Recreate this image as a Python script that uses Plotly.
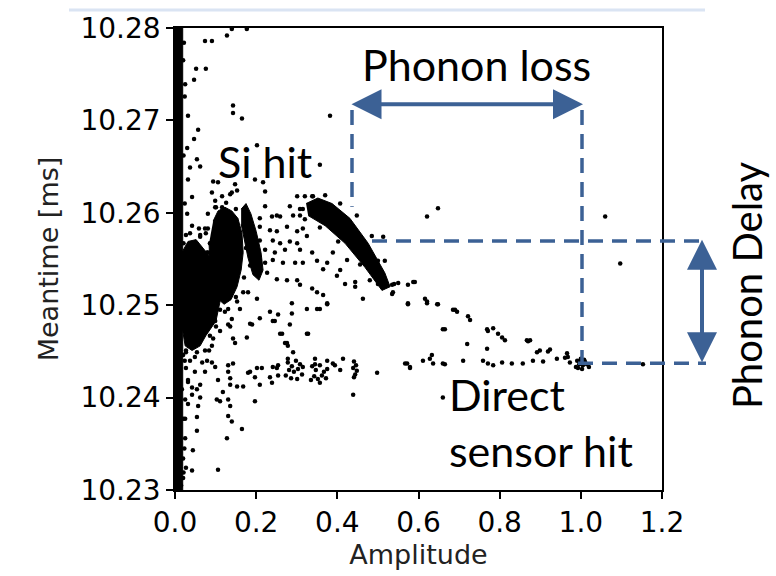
import plotly.graph_objects as go

# ---------------- data (Amplitude, Meantime [ms]) ----------------
# dense cores (outlines of saturated point clouds)
column_x = [0.000, 0.019, 0.019, 0.000]
column_y = [10.2295, 10.2295, 10.2810, 10.2810]

blobA_x = [0.017, 0.032, 0.052, 0.069, 0.089, 0.106, 0.111, 0.101, 0.076, 0.062, 0.042, 0.025, 0.015, 0.012]
blobA_y = [10.2557, 10.2569, 10.2571, 10.2562, 10.2551, 10.2523, 10.2504, 10.2483, 10.2467, 10.2456,
           10.2451, 10.2456, 10.2483, 10.2520]

blobB_x = [0.094, 0.106, 0.123, 0.140, 0.155, 0.165, 0.168, 0.163, 0.153, 0.138, 0.121, 0.103, 0.094, 0.086, 0.084]
blobB_y = [10.2591, 10.2602, 10.2606, 10.2602, 10.2594, 10.2578, 10.2557, 10.2538, 10.2520, 10.2506,
           10.2501, 10.2508, 10.2525, 10.2544, 10.2567]

blobB2_x = [0.163, 0.175, 0.187, 0.200, 0.212, 0.217, 0.207, 0.192, 0.180, 0.170, 0.163]
blobB2_y = [10.2604, 10.2610, 10.2599, 10.2580, 10.2557, 10.2538, 10.2527, 10.2533, 10.2551, 10.2572, 10.2588]

blobC_x = [0.323, 0.352, 0.387, 0.431, 0.476, 0.517, 0.530, 0.510, 0.468, 0.419, 0.370, 0.328]
blobC_y = [10.2610, 10.2616, 10.2610, 10.2594, 10.2567, 10.2535, 10.2520, 10.2516, 10.2541, 10.2567, 10.2586, 10.2597]

# individual events
pts_x = [
    0.074, 0.091, 0.128, 0.140, 0.177, 0.052, 0.076, 0.047, 0.025, 0.143, 0.143, 0.165,
    0.057, 0.047, 0.054, 0.062, 0.037, 0.032, 0.094, 0.106, 0.140, 0.153, 0.197, 0.202,
    0.217, 0.222, 0.222, 0.116, 0.099, 0.099, 0.116, 0.042, 0.030, 0.032, 0.020, 0.382,
    0.091, 0.136, 0.148, 0.357,
    0.301, 0.320, 0.283, 0.251, 0.239, 0.259, 0.291, 0.308, 0.209, 0.185, 0.276, 0.209,
    0.234, 0.251, 0.301, 0.315, 0.325, 0.192, 0.209, 0.241, 0.259, 0.283, 0.301, 0.308,
    0.222, 0.246, 0.271, 0.209, 0.241, 0.266, 0.296, 0.315, 0.338, 0.350, 0.365, 0.375,
    0.389, 0.407, 0.424, 0.444, 0.419, 0.463, 0.500, 0.480, 0.513, 0.550, 0.574, 0.591,
    0.574, 0.185, 0.227, 0.251, 0.276, 0.301, 0.308, 0.338, 0.350, 0.365, 0.375, 0.357,
    0.325, 0.288, 0.288, 0.234, 0.209, 0.241, 0.283, 0.325, 0.259, 0.276, 0.143, 0.177,
    0.136, 0.190, 0.160, 0.202, 0.180,
    0.185, 0.246, 0.254, 0.350, 0.375, 0.621, 0.646, 0.690, 0.660, 0.264, 0.328, 0.271,
    0.278, 0.291, 0.148, 0.131, 0.140, 0.079, 0.099, 0.131, 0.143, 0.131, 0.136, 0.106,
    0.136, 0.153, 0.168, 0.118, 0.180, 0.197, 0.185, 0.214, 0.202, 0.209, 0.234, 0.239,
    0.251, 0.254, 0.241, 0.254, 0.278, 0.345, 0.375, 0.389, 0.407, 0.414, 0.498, 0.572,
    0.579, 0.611, 0.633, 0.660, 0.660, 0.439, 0.103, 0.111, 0.131, 0.136, 0.131, 0.140,
    0.165, 0.128, 0.054, 0.057, 0.054, 0.054, 0.044, 0.042, 0.106, 0.197, 0.032,
    0.278, 0.288, 0.298, 0.308, 0.281, 0.293, 0.303, 0.313, 0.286, 0.301, 0.273, 0.315,
    0.338, 0.347, 0.357, 0.367, 0.343, 0.352, 0.362, 0.375, 0.335, 0.357, 0.372, 0.345,
    0.441, 0.446, 0.439, 0.448, 0.444, 0.441,
    0.991, 1.000, 1.010, 0.996, 1.005, 1.015, 0.988, 1.003, 1.020, 0.998, 0.993, 1.008,
    0.394, 0.567, 0.579, 0.628, 0.636, 0.665, 0.710, 0.759, 0.771, 0.784, 0.806, 0.830,
    0.857, 0.882, 0.907, 0.941, 0.961, 0.973, 0.892, 0.919, 0.870, 1.153, 1.097, 1.060,
    0.587, 0.616, 0.621, 0.648, 0.685, 0.695, 0.722, 0.727, 0.769, 0.771, 0.784, 0.796,
    0.806, 0.813, 0.867, 0.875, 0.899, 0.924, 0.966, 0.968, 0.665, 0.720, 0.769, 0.574,
    0.621, 0.648, 0.399, 0.444,
    0.308, 0.419, 0.456, 0.493, 0.537, 0.535, 0.340, 0.395, 0.440, 0.485,
    0.074, 0.081, 0.172, 0.185, 0.222, 0.168, 0.153, 0.123, 0.099, 0.111, 0.091,
    0.086, 0.062, 0.037, 0.106, 0.099, 0.091, 0.074, 0.062, 0.042, 0.032, 0.025, 0.025,
    0.020, 0.020, 0.015, 0.027, 0.027, 0.025, 0.030,
    0.022, 0.024, 0.021, 0.024, 0.021, 0.023, 0.024, 0.021, 0.023, 0.021,
    0.020, 0.037, 0.054, 0.027, 0.049, 0.067, 0.032, 0.017, 0.042, 0.062, 0.025, 0.084,
    0.094, 0.101, 0.096, 0.076, 0.059, 0.042,
    0.081, 0.079, 0.084, 0.096, 0.111, 0.131, 0.150, 0.170, 0.175, 0.172, 0.150, 0.126, 0.101,
    0.315, 0.338, 0.370, 0.407, 0.448, 0.485, 0.517, 0.540, 0.535, 0.500, 0.456, 0.402, 0.357, 0.320,
    0.010, 0.027, 0.062, 0.081, 0.094, 0.099, 0.094, 0.086, 0.074, 0.049, 0.027,
]
pts_y = [
    10.2786, 10.2786, 10.2792, 10.2799, 10.2799, 10.2756, 10.2756, 10.2744, 10.2739, 10.2716, 10.2708, 10.2702,
    10.2690, 10.2680, 10.2658, 10.2650, 10.2649, 10.2636, 10.2634, 10.2633, 10.2622, 10.2624, 10.2636, 10.2673,
    10.2633, 10.2623, 10.2607, 10.2618, 10.2613, 10.2606, 10.2606, 10.2617, 10.2670, 10.2705, 10.2765, 10.2705,
    10.2622, 10.2620, 10.2631, 10.2652,
    10.2618, 10.2618, 10.2607, 10.2597, 10.2596, 10.2596, 10.2597, 10.2597, 10.2594, 10.2591, 10.2585, 10.2585,
    10.2581, 10.2580, 10.2580, 10.2583, 10.2575, 10.2576, 10.2570, 10.2570, 10.2567, 10.2569, 10.2567, 10.2560,
    10.2560, 10.2557, 10.2560, 10.2549, 10.2549, 10.2546, 10.2546, 10.2546, 10.2557, 10.2548, 10.2539, 10.2546,
    10.2557, 10.2538, 10.2549, 10.2525, 10.2523, 10.2507, 10.2548, 10.2527, 10.2574, 10.2524, 10.2522, 10.2525,
    10.2501, 10.2543, 10.2535, 10.2528, 10.2527, 10.2527, 10.2522, 10.2518, 10.2514, 10.2511, 10.2502, 10.2496,
    10.2496, 10.2502, 10.2491, 10.2493, 10.2486, 10.2483, 10.2479, 10.2469, 10.2469, 10.2459, 10.2464, 10.2465,
    10.2477, 10.2479, 10.2496, 10.2507, 10.2514,
    10.2480, 10.2483, 10.2490, 10.2496, 10.2501, 10.2502, 10.2501, 10.2495, 10.2474, 10.2469, 10.2469, 10.2459,
    10.2456, 10.2449, 10.2459, 10.2479, 10.2485, 10.2440, 10.2433, 10.2435, 10.2437, 10.2428, 10.2421, 10.2419,
    10.2414, 10.2412, 10.2412, 10.2406, 10.2427, 10.2422, 10.2428, 10.2432, 10.2432, 10.2414, 10.2422, 10.2416,
    10.2432, 10.2424, 10.2433, 10.2435, 10.2442, 10.2442, 10.2440, 10.2437, 10.2430, 10.2442, 10.2427, 10.2437,
    10.2432, 10.2440, 10.2446, 10.2437, 10.2400, 10.2403, 10.2398, 10.2396, 10.2398, 10.2391, 10.2380, 10.2374,
    10.2366, 10.2356, 10.2409, 10.2391, 10.2379, 10.2364, 10.2343, 10.2321, 10.2322, 10.2396, 10.2417,
    10.2438, 10.2434, 10.2440, 10.2436, 10.2430, 10.2428, 10.2431, 10.2425, 10.2421, 10.2420, 10.2424, 10.2433,
    10.2434, 10.2430, 10.2435, 10.2428, 10.2423, 10.2420, 10.2424, 10.2431, 10.2419, 10.2416, 10.2421, 10.2436,
    10.2439, 10.2435, 10.2432, 10.2429, 10.2425, 10.2422,
    10.2440, 10.2442, 10.2439, 10.2436, 10.2435, 10.2436, 10.2433, 10.2431, 10.2433, 10.2439, 10.2432, 10.2441,
    10.2435, 10.2437, 10.2433, 10.2442, 10.2437, 10.2436, 10.2440, 10.2440, 10.2437, 10.2435, 10.2438, 10.2437,
    10.2437, 10.2440, 10.2439, 10.2442, 10.2443, 10.2438, 10.2449, 10.2450, 10.2461, 10.2436, 10.2545, 10.2596,
    10.2525, 10.2507, 10.2504, 10.2501, 10.2495, 10.2493, 10.2488, 10.2484, 10.2474, 10.2472, 10.2475, 10.2469,
    10.2465, 10.2462, 10.2462, 10.2462, 10.2451, 10.2452, 10.2448, 10.2444, 10.2474, 10.2458, 10.2453, 10.2502,
    10.2596, 10.2605, 10.2532, 10.2520,
    10.2604, 10.2583, 10.2557, 10.2541, 10.2514, 10.2522, 10.2618, 10.2600, 10.2580, 10.2553,
    10.2583, 10.2599, 10.2604, 10.2573, 10.2546, 10.2514, 10.2504, 10.2493, 10.2483, 10.2472, 10.2456,
    10.2567, 10.2576, 10.2578, 10.2525, 10.2504, 10.2438, 10.2428, 10.2414, 10.2403, 10.2393, 10.2377, 10.2356,
    10.2334, 10.2313, 10.2305, 10.2324, 10.2451, 10.2535, 10.2599,
    10.2784, 10.2726, 10.2662, 10.2610, 10.2567, 10.2504, 10.2440, 10.2377, 10.2345, 10.2319,
    10.2446, 10.2440, 10.2449, 10.2432, 10.2428, 10.2438, 10.2419, 10.2409, 10.2411, 10.2400, 10.2398, 10.2451,
    10.2464, 10.2477, 10.2493, 10.2578, 10.2583, 10.2586,
    10.2583, 10.2557, 10.2530, 10.2509, 10.2495, 10.2496, 10.2509, 10.2530, 10.2562, 10.2586, 10.2604, 10.2611, 10.2606,
    10.2604, 10.2618, 10.2619, 10.2610, 10.2597, 10.2575, 10.2548, 10.2523, 10.2512, 10.2523, 10.2544, 10.2569, 10.2584, 10.2593,
    10.2567, 10.2576, 10.2574, 10.2557, 10.2535, 10.2514, 10.2488, 10.2467, 10.2451, 10.2444, 10.2449,
]

x_ticks = [0.0, 0.2, 0.4, 0.6, 0.8, 1.0, 1.2]
y_ticks = [10.23, 10.24, 10.25, 10.26, 10.27, 10.28]

# ---------------- figure ----------------
fig = go.Figure()

for cx, cy in [(column_x, column_y), (blobA_x, blobA_y), (blobB_x, blobB_y),
               (blobB2_x, blobB2_y), (blobC_x, blobC_y)]:
    fig.add_trace(go.Scatter(x=cx, y=cy, mode="lines", fill="toself",
                             fillcolor="black", line=dict(color="black", width=1),
                             hoverinfo="skip", showlegend=False))

fig.add_trace(go.Scatter(x=pts_x, y=pts_y, mode="markers",
                         marker=dict(color="black", size=4.5, line=dict(width=0)),
                         showlegend=False))

BLUE = "#3c6195"
tick_font = dict(family="DejaVu Sans", size=28, color="black")
title_font = dict(family="DejaVu Sans", size=27, color="#222")

fig.update_layout(
    width=776, height=576,
    margin=dict(l=175, r=114, t=20, b=83),
    paper_bgcolor="white", plot_bgcolor="white",
    showlegend=False,
    xaxis=dict(range=[0, 1.2], tickvals=x_ticks, tickformat=".1f",
               ticks="outside", ticklen=7, tickwidth=1.5, tickcolor="black",
               showline=True, linecolor="black", linewidth=1.5, mirror=True,
               showgrid=False, zeroline=False, tickfont=tick_font,
               title=dict(text="Amplitude", font=title_font, standoff=6)),
    yaxis=dict(range=[10.23, 10.28], tickvals=y_ticks, tickformat=".2f",
               ticks="outside", ticklen=7, tickwidth=1.5, tickcolor="black",
               showline=True, linecolor="black", linewidth=1.5, mirror=True,
               showgrid=False, zeroline=False, tickfont=tick_font,
               title=dict(text="Meantime [ms]", font=title_font, standoff=14)),
)

def px_x(p):
    return (p - 175) / 487.0

def px_y(p):
    return (492.7 - p) / 472.7

dash = "15px,9px"
shapes = [
    dict(type="rect", xref="paper", yref="paper", x0=px_x(69), x1=px_x(705),
         y0=px_y(3), y1=px_y(0), fillcolor="#dae4f3", line=dict(width=0)),
    dict(type="line", xref="paper", yref="paper", x0=px_x(352), x1=px_x(352),
         y0=px_y(104), y1=px_y(203), line=dict(color=BLUE, width=3.5, dash=dash)),
    dict(type="line", xref="paper", yref="paper", x0=px_x(582), x1=px_x(582),
         y0=px_y(104), y1=px_y(362), line=dict(color=BLUE, width=3.5, dash=dash)),
    dict(type="line", xref="paper", yref="paper", x0=px_x(372), x1=px_x(706),
         y0=px_y(238), y1=px_y(238), line=dict(color=BLUE, width=3.5, dash=dash)),
    dict(type="line", xref="paper", yref="paper", x0=px_x(578), x1=px_x(706),
         y0=px_y(363), y1=px_y(363), line=dict(color=BLUE, width=3.5, dash=dash)),
]
fig.update_layout(shapes=shapes)

txt_font = dict(family="Lato", size=43, color="black")
annotations = [
    dict(xref="paper", yref="paper", x=px_x(476), y=px_y(57), text="Phonon loss",
         showarrow=False, font=txt_font, xanchor="center", yanchor="middle"),
    dict(xref="paper", yref="paper", x=px_x(265), y=px_y(157), text="Si hit",
         showarrow=False, font=txt_font, xanchor="center", yanchor="middle"),
    dict(xref="paper", yref="paper", x=px_x(447), y=px_y(424), text="Direct<br>sensor hit",
         showarrow=False, font=txt_font, xanchor="left", yanchor="middle", align="left"),
    dict(xref="paper", yref="paper", x=px_x(747), y=px_y(283), text="Phonon Delay",
         showarrow=False, font=dict(family="Lato", size=40, color="black"),
         xanchor="center", yanchor="middle", textangle=-90),
    # horizontal double arrow
    dict(xref="paper", yref="paper", x=px_x(583), y=px_y(98), ax=-233, ay=0,
         axref="pixel", ayref="pixel", text="", showarrow=True,
         arrowhead=2, startarrowhead=2, arrowside="end+start", arrowsize=1.5,
         startarrowsize=1.5, arrowwidth=4, arrowcolor=BLUE, standoff=0, startstandoff=0),
    # vertical double arrow
    dict(xref="paper", yref="paper", x=px_x(702), y=px_y(362), ax=0, ay=-124,
         axref="pixel", ayref="pixel", text="", showarrow=True,
         arrowhead=2, startarrowhead=2, arrowside="end+start", arrowsize=1.5,
         startarrowsize=1.5, arrowwidth=4, arrowcolor=BLUE, standoff=0, startstandoff=0),
]
fig.update_layout(annotations=annotations)

fig.write_html("out.html")
